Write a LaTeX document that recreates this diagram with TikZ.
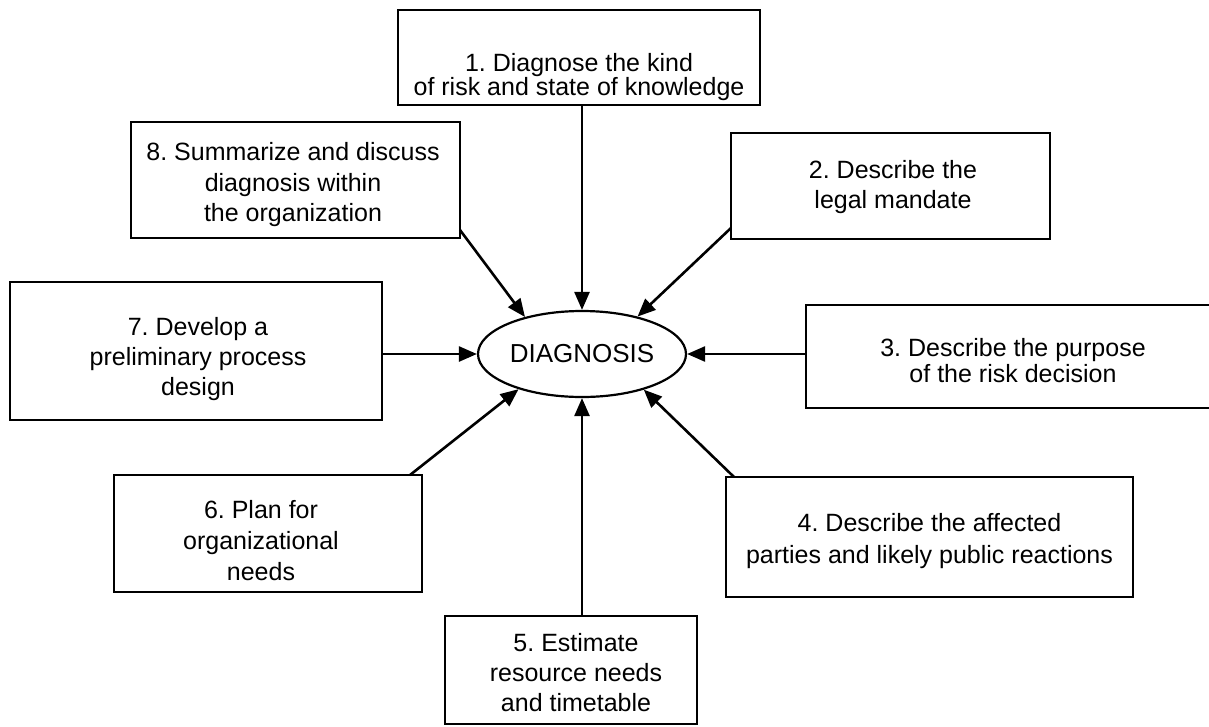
\documentclass[tikz,border=0pt]{standalone}
\usepackage{fontspec}
\setmainfont{Liberation Sans}
\usetikzlibrary{arrows.meta,shapes.geometric,calc}
\begin{document}
\frenchspacing
\begin{tikzpicture}[x=1pt,y=-1pt,
  box/.style={draw, line width=2.2pt, inner sep=0pt, outer sep=0pt, rectangle},
  txt/.style={align=center, inner sep=0pt},
  arr/.style={line width=2.6pt, -{Triangle[length=18pt,width=15pt]}},
]
\useasboundingbox (0,0) rectangle (1209,726);
\fill[white] (0,0) rectangle (1209,726);

% boxes
\node[box, minimum width=362pt, minimum height=95pt]  (b1) at (579,57.5) {};
\node[box, minimum width=329pt, minimum height=116pt] (b8) at (295.5,180) {};
\node[box, minimum width=319pt, minimum height=106pt] (b2) at (890.5,186) {};
\node[box, minimum width=372pt, minimum height=138pt] (b7) at (196,351) {};
\node[box, minimum width=414pt, minimum height=103pt] (b3) at (1013,356.5) {};
\node[box, minimum width=308pt, minimum height=117pt] (b6) at (268,533.5) {};
\node[box, minimum width=407pt, minimum height=120pt] (b4) at (929.5,537) {};
\node[box, minimum width=252pt, minimum height=108pt] (b5) at (571,670) {};

% texts
\node[txt, font=\fontsize{25}{23.3}\selectfont] (t1) at (579,77) {1. Diagnose the kind\\of risk and state of knowledge};
\node[txt, font=\fontsize{25}{30.5}\selectfont] (t8) at (293,185) {8. Summarize and discuss\\diagnosis within\\the organization};
\node[txt, font=\fontsize{25}{30}\selectfont] (t2) at (893,187) {2. Describe the\\legal mandate};
\node[txt, font=\fontsize{25}{30}\selectfont] (t7) at (198,359) {7. Develop a\\preliminary process\\design};
\node[txt, font=\fontsize{25}{26}\selectfont] (t3) at (1013,361) {3. Describe the purpose\\of the risk decision};
\node[txt, font=\fontsize{25}{31}\selectfont] (t6) at (261,541) {6. Plan for\\organizational\\needs};
\node[txt, font=\fontsize{25}{32}\selectfont] (t4) at (929.5,541) {4. Describe the affected\\parties and likely public reactions};
\node[txt, font=\fontsize{25}{30}\selectfont] (t5) at (576,673) {5. Estimate\\resource needs\\and timetable};

% centre
\node[draw, ellipse, line width=2.2pt, minimum width=208pt, minimum height=86pt,
      inner sep=0pt, font=\fontsize{26}{30}\selectfont] (d) at (582,354) {DIAGNOSIS};

% connectors
\draw[arr] (b1.south -| d.north) -- (d.north);
\draw[arr] (b5.north -| d.south) -- (d.south);
\draw[arr] (b7.east |- d.west) -- (d.west);
\draw[arr] (b3.west |- d.east) -- (d.east);
\draw[arr] ($(b8.south east)+(0,-8)$) -- (d.147);
\draw[arr] ($(b2.south west)+(0,-11)$) -- (d.34);
\draw[arr] ($(b6.north east)+(-12,0)$) -- (d.209);
\draw[arr] ($(b4.north west)+(8,0)$) -- (d.330);
\end{tikzpicture}
\end{document}
